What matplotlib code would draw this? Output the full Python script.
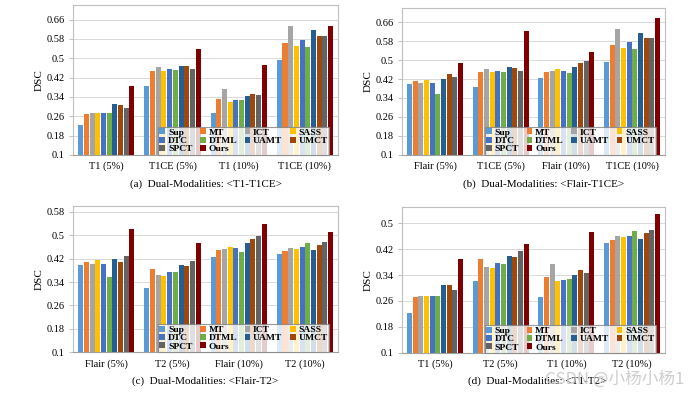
import numpy as np
import matplotlib.pyplot as plt

plt.rcParams['font.family'] = ['Liberation Serif', 'DejaVu Serif']

# 手法名と色
methods = ["Sup", "MT", "ICT", "SASS", "DTC", "DTML", "UAMT", "UMCT", "SPCT", "Ours"]
colors = ["#5B9BD5", "#ED7D31", "#A5A5A5", "#FFC000", "#4472C4",
          "#70AD47", "#255E91", "#9E480E", "#636363", "#7F0000"]

# (a) T1-T1CE
groups_a = ["T1 (5%)", "T1CE (5%)", "T1 (10%)", "T1CE (10%)"]
vals_a = [
    [0.224, 0.271, 0.273, 0.273, 0.273, 0.273, 0.309, 0.306, 0.295, 0.385],
    [0.385, 0.448, 0.465, 0.448, 0.455, 0.451, 0.470, 0.466, 0.455, 0.538],
    [0.272, 0.331, 0.372, 0.320, 0.326, 0.328, 0.342, 0.352, 0.346, 0.474],
    [0.492, 0.562, 0.633, 0.551, 0.576, 0.546, 0.616, 0.594, 0.593, 0.633],
]

# (b) Flair-T1CE
groups_b = ["Flair (5%)", "T1CE (5%)", "Flair (10%)", "T1CE (10%)"]
vals_b = [
    [0.399, 0.410, 0.403, 0.414, 0.403, 0.357, 0.419, 0.440, 0.430, 0.488],
    [0.385, 0.448, 0.463, 0.448, 0.455, 0.451, 0.469, 0.466, 0.455, 0.624],
    [0.426, 0.448, 0.455, 0.461, 0.455, 0.444, 0.472, 0.488, 0.498, 0.533],
    [0.491, 0.562, 0.633, 0.550, 0.575, 0.546, 0.616, 0.593, 0.593, 0.677],
]

# (c) Flair-T2
groups_c = ["Flair (5%)", "T2 (5%)", "Flair (10%)", "T2 (10%)"]
vals_c = [
    [0.398, 0.409, 0.402, 0.417, 0.401, 0.357, 0.419, 0.409, 0.429, 0.522],
    [0.321, 0.385, 0.364, 0.361, 0.374, 0.374, 0.398, 0.394, 0.413, 0.475],
    [0.425, 0.450, 0.454, 0.460, 0.457, 0.443, 0.473, 0.487, 0.497, 0.539],
    [0.435, 0.446, 0.458, 0.454, 0.459, 0.474, 0.451, 0.467, 0.477, 0.510],
]

# (d) T1-T2
groups_d = ["T1 (5%)", "T2 (5%)", "T1 (10%)", "T2 (10%)"]
vals_d = [
    [0.224, 0.272, 0.274, 0.274, 0.274, 0.274, 0.310, 0.309, 0.294, 0.390],
    [0.322, 0.388, 0.365, 0.363, 0.377, 0.375, 0.398, 0.394, 0.414, 0.434],
    [0.273, 0.333, 0.374, 0.322, 0.325, 0.327, 0.341, 0.355, 0.346, 0.471],
    [0.438, 0.447, 0.459, 0.456, 0.461, 0.477, 0.452, 0.468, 0.479, 0.528],
]

captions = ["(a)  Dual-Modalities: <T1-T1CE>", "(b)  Dual-Modalities: <Flair-T1CE>",
            "(c)  Dual-Modalities: <Flair-T2>", "(d)  Dual-Modalities: <T1-T2>"]

fig = plt.figure(figsize=(6.97, 3.97), dpi=100)

panels = [
    (groups_a, vals_a, [0.105, 0.610, 0.380, 0.377], 0.72, np.arange(0.1, 0.67, 0.08), (0.295, 0.537)),
    (groups_b, vals_b, [0.577, 0.610, 0.377, 0.370], 0.72, np.arange(0.1, 0.67, 0.08), (0.780, 0.537)),
    (groups_c, vals_c, [0.105, 0.113, 0.380, 0.368], 0.60, np.arange(0.1, 0.59, 0.08), (0.295, 0.040)),
    (groups_d, vals_d, [0.577, 0.111, 0.377, 0.368], 0.55, np.arange(0.1, 0.51, 0.08), (0.770, 0.040)),
]

# 凡例は横並び(行ごと)にするため列順に並べ替える
leg_order = [0, 4, 8, 1, 5, 9, 2, 6, 3, 7]

step = 0.086
bw = 0.076
for (groups, vals, rect, ytop, yt, cap_xy), cap in zip(panels, captions):
    ax = fig.add_axes(rect)
    vals = np.array(vals)
    x = np.arange(len(groups))
    bars = []
    for i, m in enumerate(methods):
        b = ax.bar(x + (i - 4.5) * step, vals[:, i] - 0.1, bottom=0.1, width=bw,
                   color=colors[i], label=m, zorder=3)
        bars.append(b)
    ax.set_ylim(0.1, ytop)
    ax.set_xlim(-0.5, len(groups) - 0.5)
    ax.set_yticks(yt)
    ax.set_yticklabels([("%.2f" % v).rstrip("0").rstrip(".") for v in yt])
    ax.set_xticks(x)
    ax.set_xticklabels(groups)
    ax.tick_params(axis='y', length=3, width=0.7, color="#BFBFBF", labelsize=7.5, pad=3)
    ax.tick_params(axis='x', length=0, labelsize=7.5, pad=5)
    ax.grid(axis='y', color="#D9D9D9", linewidth=0.7, zorder=0)
    for s in ax.spines.values():
        s.set_color("#BFBFBF")
        s.set_linewidth(0.8)
    ax.spines['bottom'].set_color("#A0A0A0")
    ax.set_ylabel("DSC", fontsize=8, labelpad=2)
    w_px = rect[2] * 697
    leg = ax.legend([bars[k] for k in leg_order], [methods[k] for k in leg_order],
                    loc="lower right", bbox_to_anchor=(1 - 9 / w_px, 0), ncol=4,
                    prop={'weight': 'bold', 'size': 6.8},
                    handlelength=0.6, handleheight=0.6, handletextpad=0.3,
                    columnspacing=0.8, labelspacing=0.0, borderpad=0.15,
                    fancybox=False, framealpha=0.8, edgecolor="#808080",
                    borderaxespad=0.0)
    leg.get_frame().set_linewidth(0.8)
    fig.text(cap_xy[0], cap_xy[1], cap, ha="center", va="center", fontsize=8)

# 透かし
fig.text(0.982, 0.045, "CSDN @小杨小杨1", ha="right", va="center", fontsize=12,
         color="#C8C8C8", alpha=0.9, family=['Noto Sans CJK SC', 'DejaVu Sans'])

fig.savefig("out.png", dpi=100)
